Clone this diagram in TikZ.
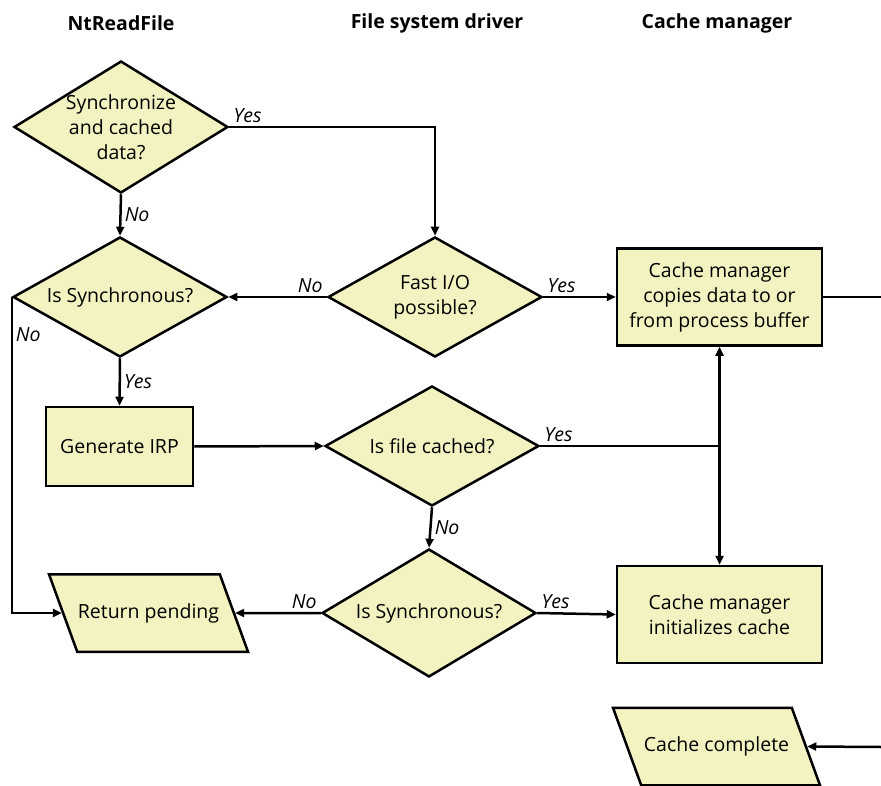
\documentclass[tikz,border=0pt]{standalone}
\usepackage{fontspec}
\setmainfont{Open Sans}
\usetikzlibrary{arrows.meta, positioning, shapes.geometric}
\definecolor{boxfill}{HTML}{F3F3C1}

\begin{document}
\begin{tikzpicture}[
	x=1pt, y=-1pt,
	font=\fontsize{19.5}{25}\selectfont,
	decision/.style={diamond, draw=black, fill=boxfill, line width=2.5pt, aspect=1.8, inner sep=-6pt,
		minimum width=214pt, minimum height=120pt, align=center},
	process/.style={rectangle, draw=black, fill=boxfill, line width=2.5pt, minimum width=205pt,
		minimum height=97pt, align=center},
	io/.style={trapezium, trapezium left angle=110, trapezium right angle=70, trapezium stretches body=true,
		draw=black, fill=boxfill, line width=2.5pt, inner xsep=0pt, inner ysep=29pt, align=center},
	header/.style={font=\fontsize{19.5}{25}\selectfont\bfseries},
	arrow/.style={-{Triangle[length=9pt, width=8pt]}, line width=2.5pt},
	plain/.style={line width=2.5pt},
	annot/.style={font=\fontsize{19.5}{25}\selectfont\itshape, inner sep=3pt}
	]
	\useasboundingbox (0,0) rectangle (881,786);

	% --- Column headers ---
	\node[header] (hdrnt) at (121,23) {NtReadFile};
	\node[header] (hdrfsd) at (437,23) {File system driver};
	\node[header] (hdrcm) at (717,23) {Cache manager};

	% --- NtReadFile column ---
	\node[decision, minimum height=132pt] (sync) at (121,127) {Synchronize\\and cached\\data?};
	\node[decision] (issync) at (120,297) {Is Synchronous?};
	\node[process, minimum width=147pt, minimum height=79pt] (genirp) at (119.5,446.5) {Generate IRP};
	\node[io, minimum width=199pt] (retpend) at (148.5,613) {Return pending};

	% --- File system driver column ---
	\node[decision] (fastio) at (435,297) {Fast I/O\\possible?};
	\node[decision] (iscached) at (432,446) {Is file cached?};
	\node[decision, minimum height=128pt] (issyncb) at (429,613) {Is Synchronous?};

	% --- Cache manager column ---
	\node[process] (copy) at (719.5,297) {Cache manager\\copies data to or\\from process buffer};
	\node[process] (init) at (719.5,614.5) {Cache manager\\initializes cache};
	\node[io, minimum width=207pt] (cachedone) at (716.5,746.5) {Cache complete};

	\coordinate (outcopy) at (881,297);
	\coordinate (incomplete) at (881,747);
	\coordinate (junc) at (copy.south |- iscached.east);

	% --- Connectors ---
	\draw[arrow] (sync.east) node[annot, above right] {Yes} -| (fastio.north);
	\draw[arrow] (sync.south) -- node[annot, right] {No} (issync.north);
	\draw[arrow] (fastio.west) node[annot, above left] {No} -- (issync.east);
	\draw[arrow] (fastio.east) node[annot, above right] {Yes} -- (copy.west);
	\draw[arrow] (issync.west) |- node[annot, right, pos=0.06] {No} (retpend.west);
	\draw[arrow] (issync.south) -- node[annot, right] {Yes} (genirp.north);
	\draw[arrow] (genirp.east) -- (iscached.west);
	\draw[plain] (iscached.east) node[annot, above right] {Yes} -- (junc);
	\draw[arrow] (junc) -- (copy.south);
	\draw[arrow] (junc) -- (init.north);
	\draw[arrow] (iscached.south) -- node[annot, right] {No} (issyncb.north);
	\draw[arrow] (issyncb.west) node[annot, above left] {No} -- (retpend.east);
	\draw[arrow] (issyncb.east) node[annot, above right] {Yes} -- (init.west);
	\draw[plain] (copy.east) -- (outcopy);
	\draw[arrow] (incomplete) -- (cachedone.east);
\end{tikzpicture}
\end{document}
